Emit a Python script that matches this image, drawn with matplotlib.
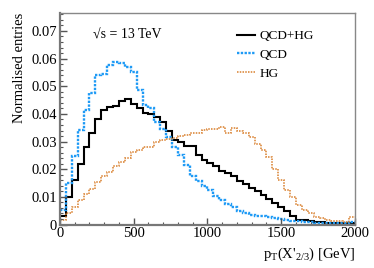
import matplotlib
matplotlib.use("Agg")
import matplotlib.pyplot as plt
import numpy as np
from matplotlib.ticker import MultipleLocator

plt.rcParams['font.family'] = ['Liberation Serif', 'DejaVu Serif']
plt.rcParams['mathtext.fontset'] = 'custom'
plt.rcParams['mathtext.rm'] = 'Liberation Serif'
plt.rcParams['mathtext.it'] = 'Liberation Serif:italic'

# 50 bins of 40 GeV, 0 - 2000 GeV
bin_edges = np.linspace(0, 2000, 51)

qcd_hg = [0.003, 0.010, 0.016, 0.022, 0.028, 0.033, 0.038, 0.0415, 0.0425, 0.043,
          0.0448, 0.0454, 0.0435, 0.0422, 0.0405, 0.0398, 0.0388, 0.0372, 0.034, 0.0305,
          0.030, 0.0285, 0.0283, 0.0252, 0.0234, 0.0222, 0.021, 0.0192, 0.0186, 0.0174,
          0.0156, 0.0146, 0.0132, 0.0120, 0.0108, 0.0094, 0.0078, 0.0064, 0.0048, 0.0030,
          0.0018, 0.0016, 0.0012, 0.0010, 0.0008, 0.0006, 0.0005, 0.0004, 0.0004, 0.0005]

qcd = [0.0054, 0.015, 0.0246, 0.0342, 0.0414, 0.0474, 0.054, 0.0546, 0.0576, 0.0587,
       0.0584, 0.057, 0.0552, 0.0486, 0.0432, 0.042, 0.0372, 0.0345, 0.0318, 0.0282,
       0.0252, 0.0215, 0.0174, 0.0156, 0.0138, 0.0125, 0.0102, 0.0088, 0.0074, 0.0062,
       0.0050, 0.0040, 0.0035, 0.0032, 0.0030, 0.0027, 0.0022, 0.0019, 0.0016, 0.0013,
       0.0011, 0.0009, 0.0008, 0.0007, 0.0006, 0.0006, 0.0005, 0.0005, 0.0005, 0.0008]

hg = [0.0016, 0.0042, 0.0064, 0.0088, 0.011, 0.0128, 0.0154, 0.0176, 0.019, 0.0212,
      0.0226, 0.0240, 0.0262, 0.0268, 0.028, 0.0282, 0.0300, 0.0304, 0.031, 0.0312,
      0.0320, 0.0324, 0.0330, 0.0332, 0.0342, 0.0346, 0.0346, 0.0352, 0.0330, 0.0348,
      0.0340, 0.0330, 0.0316, 0.0290, 0.0268, 0.0244, 0.0200, 0.0162, 0.0124, 0.0100,
      0.0070, 0.0052, 0.0040, 0.0028, 0.0022, 0.0015, 0.0013, 0.0012, 0.0010, 0.0028]

fig = plt.figure(figsize=(3.74, 2.68), dpi=100)
ax = fig.add_axes([0.1604, 0.1623, 0.7886, 0.7892])

ax.stairs(qcd_hg, bin_edges, color='black', lw=1.5, label='QCD+HG', baseline=None)
ax.stairs(qcd, bin_edges, color='#1e9af5', lw=1.7, linestyle=(0, (1, 0.6)),
          label='QCD', baseline=None)
ax.stairs(hg, bin_edges, color='#d9802e', lw=1.1, linestyle=(0, (1, 0.8)),
          label='HG', baseline=None)

ax.set_xlim(0, 2000)
ax.set_ylim(0, 0.0765)

# ROOT style ticks
ax.xaxis.set_major_locator(MultipleLocator(500))
ax.xaxis.set_minor_locator(MultipleLocator(100))
ax.yaxis.set_major_locator(MultipleLocator(0.01))
ax.yaxis.set_minor_locator(MultipleLocator(0.002))
ax.tick_params(which='both', direction='in', top=False, right=False,
               labelsize=10.5, color='#555555')
ax.tick_params(which='major', length=5, width=1)
ax.tick_params(which='minor', length=2.5, width=0.8)
ax.yaxis.set_major_formatter(plt.FuncFormatter(lambda v, p: '0' if v == 0 else '%.2f' % v))
ax.tick_params(axis='x', pad=2)
ax.tick_params(axis='y', pad=2)

for side in ['left', 'bottom']:
    ax.spines[side].set_color('#777777')
    ax.spines[side].set_linewidth(1.6)
for side in ['top', 'right']:
    ax.spines[side].set_color('#888888')
    ax.spines[side].set_linewidth(1.0)

ax.set_ylabel('Normalised entries', fontsize=10.5, loc='top', labelpad=4)
ax.set_xlabel(r"p$_{\mathrm{T}}$(X'$_{2/3}$) [GeV]", fontsize=10.5, loc='right', labelpad=4)

ax.text(0.112, 0.896, '\u221as = 13 TeV', transform=ax.transAxes, fontsize=10,
        va='center', ha='left')

ax.legend(loc='upper right', bbox_to_anchor=(0.88, 0.945), frameon=False, fontsize=9.5,
          handlelength=1.3, handletextpad=0.4, labelspacing=0.5, borderaxespad=0)

plt.savefig('out.png', dpi=100)
